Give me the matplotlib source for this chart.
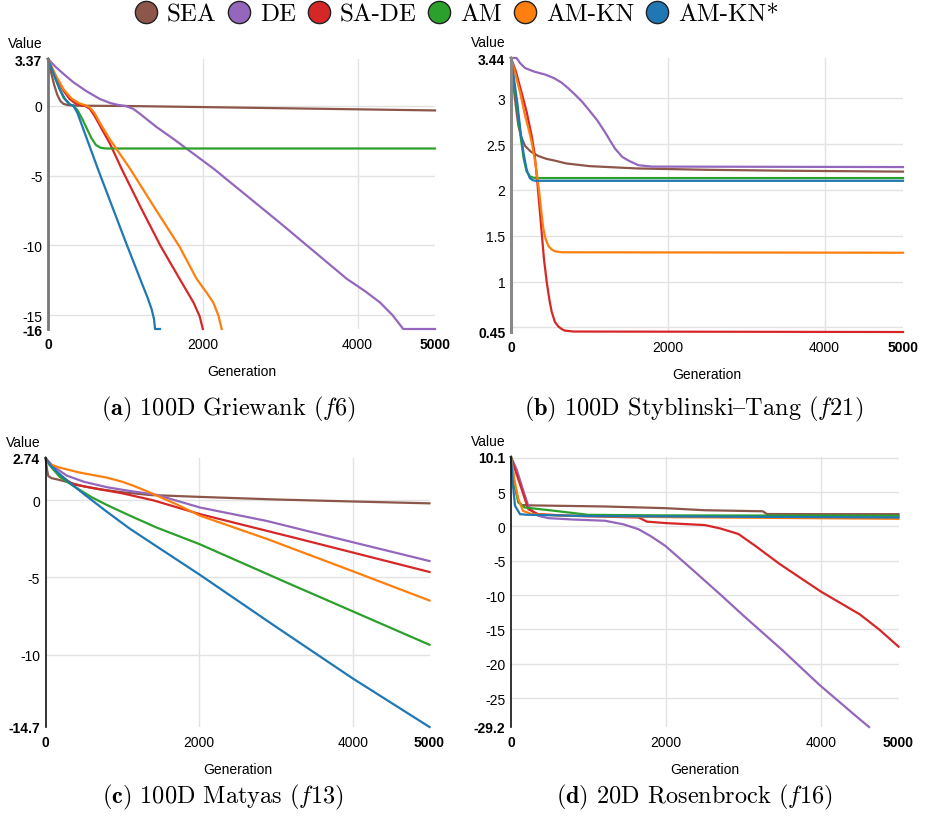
import matplotlib
matplotlib.use("Agg")
import matplotlib.pyplot as plt
from matplotlib.lines import Line2D
from matplotlib.transforms import offset_copy

plt.rcParams['font.family'] = 'Liberation Sans'
plt.rcParams['mathtext.fontset'] = 'cm'

names = ["SEA", "DE", "SA-DE", "AM", "AM-KN", "AM-KN*"]
colors = ["#8c564b", "#9467bd", "#d62728", "#2ca02c", "#ff7f0e", "#1f77b4"]

# (a) 100D Griewank (f6)  -- (generation, value)
f6_sea = ([0, 40, 80, 120, 160, 200, 260, 400, 1000, 2000, 3000, 4000, 5000],
          [3.37, 2.4, 1.5, 0.8, 0.35, 0.15, 0.06, 0.02, 0.0, -0.08, -0.16, -0.24, -0.32])
f6_de = ([0, 100, 200, 330, 500, 670, 800, 900, 1000, 1100, 1190, 1400, 1620, 2140, 3000, 3860, 4100, 4290, 4450, 4590, 5000],
         [3.37, 2.8, 2.3, 1.69, 1.05, 0.5, 0.22, 0.08, 0.0, -0.2, -0.57, -1.5, -2.36, -4.5, -8.4, -12.4, -13.3, -14.1, -15.0, -16, -16])
f6_sade = ([0, 100, 200, 280, 350, 420, 480, 540, 600, 700, 800, 950, 1200, 1450, 1700, 1880, 1960, 2000],
           [3.37, 2.1, 1.1, 0.5, 0.2, 0.05, 0.0, -0.2, -0.7, -1.7, -2.7, -4.5, -7.3, -10.0, -12.4, -14.1, -15.1, -16])
f6_am = ([0, 100, 200, 280, 330, 380, 440, 500, 560, 620, 680, 750, 5000],
         [3.37, 1.9, 0.6, 0.12, 0.0, -0.3, -0.9, -1.6, -2.3, -2.8, -3.0, -3.05, -3.05])
f6_amkn = ([0, 100, 200, 300, 400, 480, 540, 600, 680, 800, 1060, 1400, 1700, 1920, 2050, 2135, 2200, 2244],
           [3.37, 2.2, 1.2, 0.55, 0.2, 0.05, -0.1, -0.5, -1.3, -2.4, -4.5, -7.5, -10.1, -12.4, -13.4, -14.1, -15.0, -16])
f6_amkns = ([0, 80, 150, 220, 280, 330, 380, 650, 1000, 1190, 1290, 1340, 1370, 1383, 1447],
            [3.37, 2.2, 1.2, 0.5, 0.12, 0.0, -0.5, -4.6, -9.7, -12.4, -13.8, -14.6, -15.3, -16, -16])

# (b) 100D Styblinski-Tang (f21)
f21_sea = ([0, 25, 50, 75, 95, 130, 180, 250, 350, 450, 560, 700, 1000, 1600, 2500, 3500, 5000],
           [3.44, 3.2, 3.0, 2.82, 2.70, 2.58, 2.48, 2.42, 2.37, 2.34, 2.32, 2.29, 2.26, 2.235, 2.22, 2.21, 2.20])
f21_de = ([0, 70, 120, 180, 300, 434, 550, 647, 730, 817, 900, 987, 1100, 1200, 1270, 1328, 1420, 1500, 1625, 1800, 5000],
          [3.44, 3.44, 3.38, 3.33, 3.29, 3.26, 3.22, 3.17, 3.11, 3.04, 2.97, 2.88, 2.76, 2.63, 2.53, 2.45, 2.36, 2.32, 2.27, 2.255, 2.25])
f21_sade = ([0, 60, 136, 200, 264, 300, 328, 360, 391, 420, 455, 490, 519, 560, 604, 650, 689, 800, 5000],
            [3.44, 3.30, 3.06, 2.85, 2.59, 2.40, 2.16, 1.85, 1.54, 1.25, 1.0, 0.80, 0.67, 0.56, 0.51, 0.48, 0.465, 0.455, 0.45])
f21_am = ([0, 40, 80, 120, 160, 200, 240, 280, 350, 5000],
          [3.44, 3.15, 2.9, 2.6, 2.35, 2.2, 2.15, 2.135, 2.13, 2.13])
f21_amkn = ([0, 60, 120, 179, 220, 264, 300, 328, 350, 370, 390, 412, 440, 476, 520, 562, 650, 5000],
            [3.44, 3.25, 3.05, 2.81, 2.68, 2.52, 2.35, 2.19, 2.05, 1.90, 1.74, 1.58, 1.47, 1.39, 1.35, 1.33, 1.32, 1.315])
f21_amkns = ([0, 40, 80, 120, 160, 200, 240, 280, 330, 5000],
             [3.44, 3.2, 2.95, 2.65, 2.4, 2.22, 2.13, 2.105, 2.10, 2.10])

# (c) 100D Matyas (f13)
f13_sea = ([0, 20, 36, 80, 146, 319, 500, 710, 1000, 1361, 2000, 3000, 4000, 5000],
           [2.74, 2.0, 1.57, 1.43, 1.36, 1.14, 0.9, 0.71, 0.52, 0.34, 0.22, 0.05, -0.08, -0.2])
f13_de = ([0, 100, 276, 500, 797, 1100, 1448, 2012, 2880, 3747, 5000],
          [2.74, 2.2, 1.6, 1.2, 0.85, 0.6, 0.35, -0.47, -1.34, -2.41, -3.94])
f13_sade = ([0, 80, 200, 362, 710, 1000, 1400, 2012, 2880, 3314, 5000],
            [2.74, 2.2, 1.55, 1.03, 0.71, 0.45, 0.0, -0.9, -1.98, -2.52, -4.65])
f13_am = ([0, 50, 100, 189, 362, 600, 797, 1100, 1448, 2003, 3183, 4000, 5000],
          [2.74, 2.3, 2.0, 1.5, 0.93, 0.2, -0.3, -1.0, -1.77, -2.84, -5.43, -7.2, -9.37])
f13_amkn = ([0, 50, 189, 450, 797, 1000, 1150, 1361, 1700, 2012, 2880, 4000, 5000],
            [2.74, 2.35, 2.11, 1.79, 1.47, 1.2, 0.93, 0.5, -0.25, -1.0, -2.5, -4.6, -6.5])
f13_amkns = ([0, 50, 150, 300, 500, 800, 1100, 1450, 2000, 3000, 4000, 5000],
             [2.74, 2.35, 1.85, 1.2, 0.4, -0.75, -1.85, -3.0, -4.8, -8.2, -11.55, -14.7])

# (d) 20D Rosenbrock (f16)
f16_sea = ([0, 30, 60, 100, 140, 300, 1200, 2000, 2500, 3000, 3250, 3300, 4000, 5000],
           [10.1, 7.5, 5.2, 3.5, 3.1, 3.05, 2.9, 2.65, 2.35, 2.25, 2.2, 1.8, 1.78, 1.78])
f16_de = ([0, 73, 150, 223, 300, 352, 481, 800, 1213, 1450, 1643, 1800, 1987, 2150, 2331, 2700, 3000, 3500, 3983, 4284, 4450, 4620],
          [10.1, 8.3, 5.5, 2.99, 1.9, 1.54, 1.2, 1.0, 0.82, 0.3, -0.4, -1.4, -2.8, -4.4, -6.2, -9.9, -13.0, -18.0, -23.1, -26.0, -27.6, -29.2])
f16_sade = ([0, 60, 138, 223, 352, 783, 1643, 1700, 1750, 2000, 2503, 2700, 2933, 3148, 3470, 4000, 4500, 4750, 5000],
            [10.1, 8.0, 5.4, 2.5, 1.78, 1.54, 1.3, 1.0, 0.7, 0.48, 0.19, -0.3, -1.1, -2.8, -5.5, -9.5, -12.8, -15.0, -17.5])
f16_am = ([0, 40, 94, 177, 568, 997, 2000, 5000],
          [10.1, 6.5, 3.5, 2.75, 2.26, 1.68, 1.6, 1.55])
f16_amkn = ([0, 40, 94, 155, 267, 700, 2000, 5000],
            [10.1, 7.0, 4.0, 2.26, 1.78, 1.55, 1.35, 1.1])
f16_amkns = ([0, 25, 52, 116, 200, 1000, 5000],
             [10.1, 6.0, 3.0, 1.78, 1.7, 1.5, 1.3])

W, H = 926, 829
fig = plt.figure(figsize=(W / 100, H / 100), dpi=100)


def panel(box, series, ylim, yticks, ylabels, extra_grid, spine_col, spine_w):
    l, r, t, b = box
    ax = fig.add_axes([l / W, 1 - b / H, (r - l) / W, (b - t) / H])
    for (x, y), c in zip(series, colors):
        ax.plot(x, y, color=c, lw=1.6, clip_on=False, solid_joinstyle='round')
    ax.set_xlim(0, 5000)
    ax.set_ylim(*ylim)
    for s in ['top', 'right', 'bottom']:
        ax.spines[s].set_visible(False)
    ax.spines['left'].set_color(spine_col)
    ax.spines['left'].set_linewidth(spine_w)

    ax.set_xticks([2000, 4000])
    ax.set_xticklabels(['2000', '4000'])
    ax.set_xticks([0, 5000], minor=True)
    ax.set_xticklabels(['0', '5000'], minor=True, fontweight='bold')
    ax.set_yticks(yticks + extra_grid)
    ax.set_yticklabels(ylabels + [''] * len(extra_grid))
    ax.set_yticks(list(ylim), minor=True)
    ax.set_yticklabels(['%g' % ylim[0], '%g' % ylim[1]], minor=True, fontweight='bold')
    ax.tick_params(axis='x', which='both', length=0, pad=6, labelsize=10)
    ax.tick_params(axis='y', which='both', length=0, pad=4, labelsize=10)
    ax.grid(which='major', color='#e3e3e3', lw=1)
    ax.set_axisbelow(True)
    ax.set_xlabel('Generation', fontsize=10, labelpad=9)
    tr = offset_copy(ax.transAxes, fig=fig, x=-5, y=9, units='dots')
    ax.text(0, 1, 'Value', transform=tr, ha='right', va='bottom', fontsize=10)
    return ax


panel((48, 435, 60, 330),
      [f6_sea, f6_de, f6_sade, f6_am, f6_amkn, f6_amkns],
      (-16, 3.37), [0, -5, -10, -15], ['0', '-5', '-10', '-15'], [], '#777777', 2)
panel((511, 903, 59, 333),
      [f21_sea, f21_de, f21_sade, f21_am, f21_amkn, f21_amkns],
      (0.45, 3.44), [3, 2.5, 2, 1.5, 1], ['3', '2.5', '2', '1.5', '1'], [0.5], '#888888', 2.2)
panel((45.5, 429.5, 459, 728),
      [f13_sea, f13_de, f13_sade, f13_am, f13_amkn, f13_amkns],
      (-14.7, 2.74), [0, -5, -10], ['0', '-5', '-10'], [], '#111111', 1.2)
panel((511, 898.5, 458, 728),
      [f16_sea, f16_de, f16_sade, f16_am, f16_amkn, f16_amkns],
      (-29.2, 10.1), [5, 0, -5, -10, -15, -20, -25],
      ['5', '0', '-5', '-10', '-15', '-20', '-25'], [10], '#111111', 1.2)

# cmr10 keeps the TeX text encoding: "{" is the en dash glyph
cap_font = ['cmr10', 'DejaVu Serif']
captions = [(228, 409, r"$\mathbf{(a)}$ 100D Griewank ($f$6)"),
            (694, 409, r"$\mathbf{(b)}$ 100D Styblinski{Tang ($f$21)"),
            (223, 797, r"$\mathbf{(c)}$ 100D Matyas ($f$13)"),
            (694, 797, r"$\mathbf{(d)}$ 20D Rosenbrock ($f$16)")]
for x, y, s in captions:
    fig.text(x / W, 1 - y / H, s, ha='center', va='center', fontsize=17.5, family=cap_font)

handles = [Line2D([], [], marker='o', ls='none', markerfacecolor=c, markeredgecolor='#222222',
                  markeredgewidth=1.0, markersize=16) for c in colors]
fig.legend(handles, names, loc='center', bbox_to_anchor=(456 / W, 1 - 15 / H), ncol=6,
           frameon=False, handletextpad=0.35, columnspacing=0.4, handlelength=1.0,
           borderpad=0, prop={'family': cap_font, 'size': 18})

fig.savefig('out.png', dpi=100)
